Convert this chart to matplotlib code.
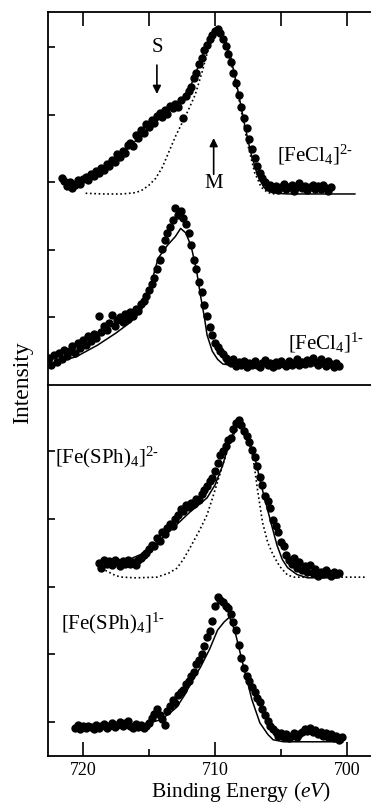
import matplotlib
matplotlib.use("Agg")
import matplotlib.pyplot as plt

plt.rcParams['font.family'] = ['Liberation Serif', 'DejaVu Serif']
plt.rcParams['mathtext.fontset'] = 'custom'
plt.rcParams['mathtext.rm'] = 'Liberation Serif'
plt.rcParams['mathtext.it'] = 'Liberation Serif:italic'

# ---- [FeCl4]2- (top panel, upper trace) ----
fecl2_x = [721.6, 721.4, 721.2, 721.0, 720.8, 720.6, 720.4, 720.2, 720.0, 719.8, 719.6, 719.4, 719.2, 719.0,
           718.8, 718.6, 718.4, 718.2, 718.0, 717.8, 717.6, 717.4, 717.2, 717.0, 716.8, 716.6, 716.4, 716.2,
           716.0, 715.8, 715.6, 715.4, 715.2, 715.0, 714.8, 714.6, 714.4, 714.2, 714.0, 713.8, 713.6, 713.4,
           713.2, 713.0, 712.8, 712.6, 712.4, 712.2, 712.0, 711.8, 711.6, 711.4, 711.2, 711.0, 710.8, 710.6,
           710.4, 710.2, 710.0, 709.8, 709.6, 709.4, 709.2, 709.0, 708.8, 708.6, 708.4, 708.2, 708.0, 707.8,
           707.6, 707.4, 707.2, 707.0, 706.8, 706.6, 706.4, 706.2, 706.0, 705.8, 705.6, 705.4, 705.2, 705.0,
           704.8, 704.6, 704.4, 704.2, 704.0, 703.8, 703.6, 703.4, 703.2, 703.0, 702.8, 702.6, 702.4, 702.2,
           702.0, 701.8, 701.6, 701.4, 701.2]
fecl2_y = [3.06, 3.02, 2.95, 3.00, 2.92, 2.97, 3.03, 2.98, 3.05, 3.08, 3.04, 3.12, 3.10, 3.17,
           3.14, 3.22, 3.19, 3.27, 3.24, 3.33, 3.30, 3.42, 3.38, 3.47, 3.44, 3.55, 3.58, 3.54,
           3.70, 3.66, 3.78, 3.74, 3.86, 3.82, 3.93, 3.88, 3.98, 4.03, 3.97, 4.08, 4.02, 4.14,
           4.10, 4.16, 4.12, 4.22, 3.95, 4.28, 4.36, 4.42, 4.55, 4.62, 4.75, 4.84, 4.96, 5.04,
           5.12, 5.18, 5.24, 5.28, 5.22, 5.13, 5.02, 4.90, 4.78, 4.62, 4.48, 4.30, 4.12, 3.95,
           3.80, 3.64, 3.50, 3.36, 3.24, 3.14, 3.06, 3.00, 2.94, 2.97, 2.91, 2.95, 2.89, 2.94,
           2.98, 2.90, 2.93, 2.96, 2.88, 2.94, 2.99, 2.92, 2.95, 2.89, 2.93, 2.97, 2.91, 2.95,
           2.90, 2.96, 2.92, 2.88, 2.94]
fecl2_fit_x = [721.5, 720.5, 719.5, 718.5, 717.5, 716.5, 715.5, 714.5, 713.5, 712.5, 711.8, 711.2, 710.6,
               710.0, 709.7, 709.3, 708.8, 708.3, 707.8, 707.3, 706.8, 706.3, 705.8, 705.3, 704.5, 699.4]
fecl2_fit_y = [2.98, 3.02, 3.10, 3.20, 3.35, 3.52, 3.72, 3.90, 4.05, 4.22, 4.45, 4.75, 5.05,
               5.24, 5.26, 5.15, 4.85, 4.40, 3.90, 3.45, 3.12, 2.93, 2.86, 2.84, 2.83, 2.83]
fecl2_m_x = [719.8, 718.5, 717.0, 716.0, 715.5, 715.0, 714.5, 714.0, 713.5, 713.0, 712.5, 712.0, 711.5,
             711.0, 710.5, 710.0, 709.8, 709.4, 709.0, 708.5, 708.0, 707.5, 707.0, 706.5, 706.0, 705.5]
fecl2_m_y = [2.84, 2.83, 2.83, 2.85, 2.89, 2.96, 3.06, 3.22, 3.45, 3.68, 3.88, 4.08, 4.30,
             4.62, 4.98, 5.22, 5.27, 5.18, 4.95, 4.55, 4.05, 3.55, 3.15, 2.93, 2.85, 2.83]

# ---- [FeCl4]1- (top panel, lower trace) ----
fecl1_x = [722.6, 722.4, 722.2, 722.0, 721.8, 721.6, 721.4, 721.2, 721.0, 720.8, 720.6, 720.4, 720.2, 720.0,
           719.8, 719.6, 719.4, 719.2, 719.0, 718.8, 718.6, 718.4, 718.2, 718.0, 717.8, 717.6, 717.4, 717.2,
           717.0, 716.8, 716.6, 716.4, 716.2, 716.0, 715.8, 715.6, 715.4, 715.2, 715.0, 714.8, 714.6, 714.4,
           714.2, 714.0, 713.8, 713.6, 713.4, 713.2, 713.0, 712.8, 712.6, 712.4, 712.2, 712.0, 711.8, 711.6,
           711.4, 711.2, 711.0, 710.8, 710.6, 710.4, 710.2, 710.0, 709.8, 709.6, 709.4, 709.2, 709.0, 708.8,
           708.6, 708.4, 708.2, 708.0, 707.8, 707.6, 707.4, 707.2, 707.0, 706.8, 706.6, 706.4, 706.2, 706.0,
           705.8, 705.6, 705.4, 705.2, 705.0, 704.8, 704.6, 704.4, 704.2, 704.0, 703.8, 703.6, 703.4, 703.2,
           703.0, 702.8, 702.6, 702.4, 702.2, 702.0, 701.8, 701.6, 701.4, 701.2, 701.0, 700.8, 700.6]
fecl1_y = [0.40, 0.30, 0.44, 0.34, 0.48, 0.38, 0.52, 0.43, 0.50, 0.58, 0.48, 0.62, 0.55, 0.66,
           0.60, 0.72, 0.65, 0.76, 0.70, 1.02, 0.78, 0.88, 0.82, 0.92, 1.04, 0.88, 0.96, 1.00,
           0.94, 1.05, 0.98, 1.08, 1.02, 1.13, 1.10, 1.20, 1.24, 1.32, 1.40, 1.50, 1.58, 1.72,
           1.85, 2.02, 2.15, 2.25, 2.34, 2.44, 2.62, 2.52, 2.58, 2.48, 2.38, 2.25, 2.08, 1.85,
           1.72, 1.52, 1.38, 1.18, 1.02, 0.86, 0.74, 0.62, 0.56, 0.50, 0.46, 0.40, 0.36, 0.32,
           0.38, 0.28, 0.34, 0.30, 0.36, 0.27, 0.33, 0.29, 0.35, 0.30, 0.26, 0.33, 0.37, 0.29,
           0.32, 0.27, 0.34, 0.30, 0.36, 0.31, 0.28, 0.35, 0.30, 0.33, 0.38, 0.29, 0.34, 0.31,
           0.37, 0.32, 0.40, 0.34, 0.30, 0.38, 0.33, 0.28, 0.36, 0.31, 0.26, 0.32, 0.28]
fecl1_fit_x = [722.6, 720.5, 718.9, 717.5, 716.4, 715.6, 715.1, 714.7, 714.3, 713.6, 713.0, 712.6,
               712.2, 711.8, 711.4, 711.1, 710.8, 710.6, 710.2, 709.8, 709.4, 708.5, 700.6]
fecl1_fit_y = [0.30, 0.42, 0.59, 0.77, 0.93, 1.10, 1.33, 1.60, 1.88, 2.07, 2.20, 2.32,
               2.25, 2.05, 1.70, 1.33, 1.00, 0.74, 0.50, 0.38, 0.31, 0.29, 0.29]

# ---- [Fe(SPh)4]2- (bottom panel, upper trace) ----
fesph2_x = [718.8, 718.6, 718.4, 718.2, 718.0, 717.8, 717.6, 717.4, 717.2, 717.0, 716.8, 716.6, 716.4, 716.2,
            716.0, 715.8, 715.6, 715.4, 715.2, 715.0, 714.8, 714.6, 714.4, 714.2, 714.0, 713.8, 713.6, 713.4,
            713.2, 713.0, 712.8, 712.6, 712.4, 712.2, 712.0, 711.8, 711.6, 711.4, 711.2, 711.0, 710.8, 710.6,
            710.4, 710.2, 710.0, 709.8, 709.6, 709.4, 709.2, 709.0, 708.8, 708.6, 708.4, 708.2, 708.0, 707.8,
            707.6, 707.4, 707.2, 707.0, 706.8, 706.6, 706.4, 706.2, 706.0, 705.8, 705.6, 705.4, 705.2, 705.0,
            704.8, 704.6, 704.4, 704.2, 704.0, 703.8, 703.6, 703.4, 703.2, 703.0, 702.8, 702.6, 702.4, 702.2,
            702.0, 701.8, 701.6, 701.4, 701.2, 701.0, 700.8, 700.6]
fesph2_y = [2.85, 2.78, 2.90, 2.84, 2.88, 2.82, 2.90, 2.86, 2.80, 2.88, 2.84, 2.90, 2.83, 2.87,
            2.82, 2.90, 2.92, 2.97, 3.00, 3.06, 3.12, 3.10, 3.22, 3.18, 3.30, 3.28, 3.36, 3.42,
            3.40, 3.50, 3.56, 3.64, 3.62, 3.70, 3.68, 3.74, 3.72, 3.80, 3.78, 3.86, 3.92, 3.98,
            4.06, 4.10, 4.20, 4.32, 4.45, 4.50, 4.58, 4.66, 4.70, 4.82, 4.92, 4.96, 4.88, 4.80,
            4.72, 4.64, 4.52, 4.42, 4.28, 4.12, 4.00, 3.84, 3.76, 3.66, 3.48, 3.40, 3.30, 3.16,
            3.10, 2.96, 2.90, 2.84, 2.92, 2.78, 2.86, 2.74, 2.80, 2.72, 2.82, 2.70, 2.76, 2.66,
            2.72, 2.68, 2.74, 2.70, 2.66, 2.72, 2.68, 2.70]
fesph2_fit_x = [718.7, 717.0, 715.2, 714.2, 713.2, 711.9, 710.6, 710.0, 709.4, 708.9, 708.4, 708.0,
                707.5, 706.9, 706.5, 706.1, 705.7, 705.3, 704.9, 704.5, 703.8, 703.0, 700.6]
fesph2_fit_y = [2.77, 2.86, 3.01, 3.18, 3.36, 3.60, 3.81, 4.00, 4.30, 4.65, 4.85, 4.88,
                4.65, 4.34, 4.00, 3.70, 3.40, 3.11, 2.90, 2.78, 2.68, 2.63, 2.63]
fesph2_m_x = [718.3, 717.5, 717.0, 716.0, 714.4, 713.5, 712.9, 712.4, 711.9, 711.2, 710.6, 710.2, 709.8,
              709.4, 708.9, 708.5, 708.1, 707.7, 707.3, 707.0, 706.8, 706.4, 706.0, 705.6, 705.1, 704.5,
              704.0, 698.5]
fesph2_m_y = [2.74, 2.66, 2.64, 2.63, 2.64, 2.70, 2.77, 2.90, 3.07, 3.32, 3.56, 3.80, 4.05,
              4.30, 4.60, 4.78, 4.84, 4.75, 4.59, 4.25, 3.96, 3.45, 3.15, 2.97, 2.80, 2.67,
              2.64, 2.64]

# ---- [Fe(SPh)4]1- (bottom panel, lower trace) ----
fesph1_x = [720.6, 720.4, 720.2, 720.0, 719.8, 719.6, 719.4, 719.2, 719.0, 718.8, 718.6, 718.4, 718.2, 718.0,
            717.8, 717.6, 717.4, 717.2, 717.0, 716.8, 716.6, 716.4, 716.2, 716.0, 715.8, 715.6, 715.4, 715.2,
            715.0, 714.8, 714.6, 714.4, 714.2, 714.0, 713.8, 713.6, 713.4, 713.2, 713.0, 712.8, 712.6, 712.4,
            712.2, 712.0, 711.8, 711.6, 711.4, 711.2, 711.0, 710.8, 710.6, 710.4, 710.2, 710.0, 709.8, 709.6,
            709.4, 709.2, 709.0, 708.8, 708.6, 708.4, 708.2, 708.0, 707.8, 707.6, 707.4, 707.2, 707.0, 706.8,
            706.6, 706.4, 706.2, 706.0, 705.8, 705.6, 705.4, 705.2, 705.0, 704.8, 704.6, 704.4, 704.2, 704.0,
            703.8, 703.6, 703.4, 703.2, 703.0, 702.8, 702.6, 702.4, 702.2, 702.0, 701.8, 701.6, 701.4, 701.2,
            701.0, 700.8, 700.6, 700.4]
fesph1_y = [0.42, 0.46, 0.40, 0.44, 0.41, 0.45, 0.43, 0.40, 0.46, 0.42, 0.44, 0.47, 0.41, 0.45,
            0.48, 0.43, 0.46, 0.50, 0.44, 0.48, 0.52, 0.45, 0.42, 0.47, 0.43, 0.46, 0.41, 0.45,
            0.48, 0.56, 0.62, 0.70, 0.60, 0.54, 0.46, 0.66, 0.74, 0.82, 0.78, 0.90, 0.94, 0.98,
            1.06, 1.10, 1.18, 1.24, 1.36, 1.42, 1.50, 1.62, 1.76, 1.84, 2.00, 2.22, 2.34, 2.30,
            2.28, 2.22, 2.18, 2.10, 1.98, 1.86, 1.64, 1.44, 1.30, 1.18, 1.10, 1.02, 0.94, 0.86,
            0.80, 0.70, 0.60, 0.52, 0.44, 0.40, 0.36, 0.30, 0.34, 0.28, 0.32, 0.26, 0.30, 0.34,
            0.28, 0.32, 0.36, 0.40, 0.37, 0.41, 0.35, 0.38, 0.32, 0.36, 0.30, 0.34, 0.28, 0.32,
            0.26, 0.30, 0.24, 0.28]
fesph1_fit_x = [720.6, 715.5, 714.8, 714.2, 713.5, 712.9, 712.3, 711.7, 711.1, 710.4, 709.8, 709.3,
                708.9, 708.5, 707.9, 707.2, 706.6, 706.0, 705.6, 704.8, 700.3]
fesph1_fit_y = [0.44, 0.45, 0.50, 0.53, 0.62, 0.72, 0.90, 1.12, 1.31, 1.58, 1.86, 1.98,
                2.05, 1.85, 1.37, 0.83, 0.49, 0.32, 0.24, 0.21, 0.21]

x_range = (722.65, 698.18)

fig = plt.figure(figsize=(3.71, 8.09), dpi=100)
left, width = 48 / 371, 1 - 48 / 371
ax_top = fig.add_axes([left, 0.5241, width, 0.9852 - 0.5241])
ax_bot = fig.add_axes([left, 0.0655, width, 0.5241 - 0.0655])

dot = dict(linestyle='none', marker='o', ms=5.0, color='black', mec='black')

ax_top.plot(fecl2_x, fecl2_y, **dot)
ax_top.plot(fecl2_fit_x, fecl2_fit_y, color='black', lw=1.1)
ax_top.plot(fecl2_m_x, fecl2_m_y, color='black', lw=1.2, linestyle=(0, (1, 1.6)))
ax_top.plot(fecl1_x, fecl1_y, **dot)
ax_top.plot(fecl1_fit_x, fecl1_fit_y, color='black', lw=1.1)

ax_bot.plot(fesph2_x, fesph2_y, **dot)
ax_bot.plot(fesph2_fit_x, fesph2_fit_y, color='black', lw=1.1)
ax_bot.plot(fesph2_m_x, fesph2_m_y, color='black', lw=1.2, linestyle=(0, (1, 1.6)))
ax_bot.plot(fesph1_x, fesph1_y, **dot)
ax_bot.plot(fesph1_fit_x, fesph1_fit_y, color='black', lw=1.1)

ax_top.set_ylim(0, 5.526)
ax_bot.set_ylim(0, 5.476)
ax_top.set_yticks([1, 2, 3, 4, 5])
ax_bot.set_yticks([0.5, 1.5, 2.5, 3.5, 4.5])

for ax in (ax_top, ax_bot):
    ax.set_xlim(*x_range)
    ax.set_xticks([720, 710, 700])
    ax.set_xticks([715, 705], minor=True)
    ax.spines['right'].set_visible(False)
    for s in ax.spines.values():
        s.set_linewidth(1.3)
    ax.tick_params(axis='y', direction='in', length=5, width=1.2, labelleft=False)
    ax.tick_params(axis='x', which='major', direction='in', length=10, width=1.2)
    ax.tick_params(axis='x', which='minor', direction='in', length=5, width=1.2)

ax_top.spines['bottom'].set_visible(False)
ax_top.tick_params(axis='x', which='both', bottom=False, top=True, labelbottom=False)
ax_top.tick_params(axis='x', which='minor', length=10)
ax_bot.tick_params(axis='x', which='both', top=False, labelsize=13, pad=4)

lab = dict(fontsize=15, color='black')
ax_top.text(705.3, 3.41, r'[FeCl$_4$]$^{2\text{-}}$', va='center', ha='left', **lab)
ax_top.text(704.5, 0.62, r'[FeCl$_4$]$^{1\text{-}}$', va='center', ha='left', **lab)
ax_bot.text(722.1, 4.41, r'[Fe(SPh)$_4$]$^{2\text{-}}$', va='center', ha='left', **lab)
ax_bot.text(721.7, 1.96, r'[Fe(SPh)$_4$]$^{1\text{-}}$', va='center', ha='left', **lab)

ax_top.annotate('', xy=(714.4, 4.27), xytext=(714.4, 4.78),
                arrowprops=dict(arrowstyle='-|>', color='black', lw=1.2, mutation_scale=12))
ax_top.text(714.4, 5.0, 'S', ha='center', va='center', fontsize=15)
ax_top.annotate('', xy=(710.1, 3.70), xytext=(710.1, 3.08),
                arrowprops=dict(arrowstyle='-|>', color='black', lw=1.2, mutation_scale=12))
ax_top.text(710.1, 2.99, 'M', ha='center', va='center', fontsize=15)

fig.text(0.062, 0.527, 'Intensity', rotation=90, ha='center', va='center', fontsize=17)
fig.text(0.65, 0.021, r'Binding Energy ($eV$)', ha='center', va='center', fontsize=15.5)

fig.savefig('out.png', dpi=100)
